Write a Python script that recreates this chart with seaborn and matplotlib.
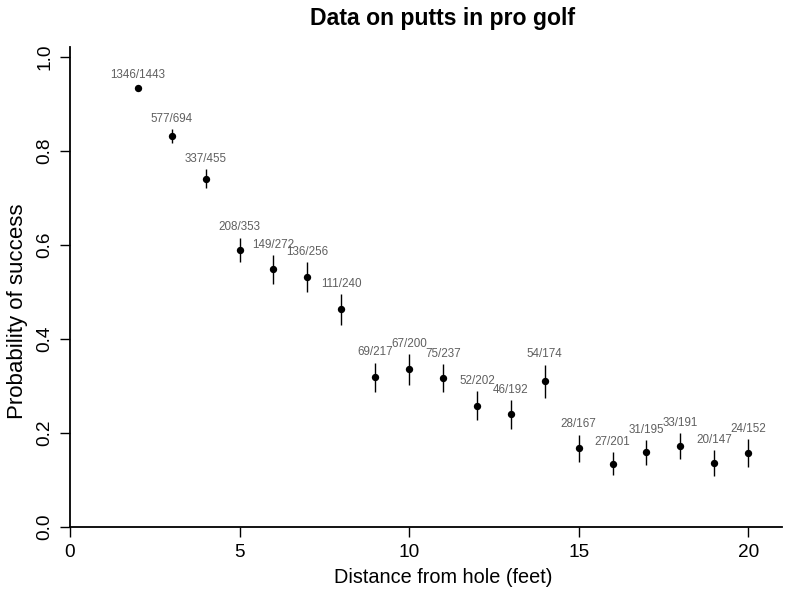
import numpy as np
import pandas as pd
import seaborn as sns
from matplotlib import pyplot as plt

# datos de putts (distancia en pies, aciertos, intentos)
distancia = [2, 3, 4, 5, 6, 7, 8, 9, 10, 11, 12, 13, 14, 15, 16, 17, 18, 19, 20]
aciertos = [1346, 577, 337, 208, 149, 136, 111, 69, 67, 75, 52, 46, 54, 28, 27, 31, 33, 20, 24]
intentos = [1443, 694, 455, 353, 272, 256, 240, 217, 200, 237, 202, 192, 174, 167, 201, 195, 191, 147, 152]

df = pd.DataFrame({'x': distancia, 'y': aciertos, 'n': intentos})
df['p'] = df['y'] / df['n']
df['se'] = np.sqrt(df['p'] * (1 - df['p']) / df['n'])

sns.set_style('ticks')
plt.rcParams['font.family'] = ['Liberation Sans', 'DejaVu Sans']
plt.rcParams['text.color'] = 'black'
plt.rcParams['axes.labelcolor'] = 'black'
plt.rcParams['xtick.color'] = 'black'
plt.rcParams['ytick.color'] = 'black'

fig = plt.figure(figsize=(8.03, 5.90), dpi=100)
ax = fig.add_axes([0.0872, 0.1068, 0.974 - 0.0872, 0.920 - 0.1068])

# barras de error +/- 1 se
ax.vlines(df['x'], df['p'] - df['se'], df['p'] + df['se'], color='black', lw=1)
sns.scatterplot(data=df, x='x', y='p', color='black', s=28, linewidth=0, ax=ax, zorder=3)

for _, r in df.iterrows():
    ax.annotate(f"{int(r['y'])}/{int(r['n'])}", (r['x'], r['p'] + r['se']),
                xytext=(0, 3), textcoords='offset points', ha='center', va='bottom',
                fontsize=8.4, color='#606060')

ax.set_xlim(0, 21)
ax.set_ylim(0, 1.02)
ax.set_xticks([0, 5, 10, 15, 20])
ax.set_yticks([0, 0.2, 0.4, 0.6, 0.8, 1.0])
ax.set_yticklabels(['0.0', '0.2', '0.4', '0.6', '0.8', '1.0'], rotation=90, va='center')
ax.tick_params(labelsize=13.7, length=7.2, width=1, pad=5)
for s in ['left', 'bottom']:
    ax.spines[s].set_linewidth(1.3)
    ax.spines[s].set_color('black')
sns.despine(ax=ax)

ax.set_xlabel('Distance from hole (feet)', fontsize=14.3, va='center')
ax.set_ylabel('Probability of success', fontsize=16, va='center')
ax.xaxis.set_label_coords(0.524, -0.106)
ax.yaxis.set_label_coords(-0.074, 0.449)
fig.text(443 / 803, 1 - 18 / 590, 'Data on putts in pro golf', fontsize=16.6,
         fontweight='bold', ha='center', va='center')

fig.savefig('out.png', dpi=100)
